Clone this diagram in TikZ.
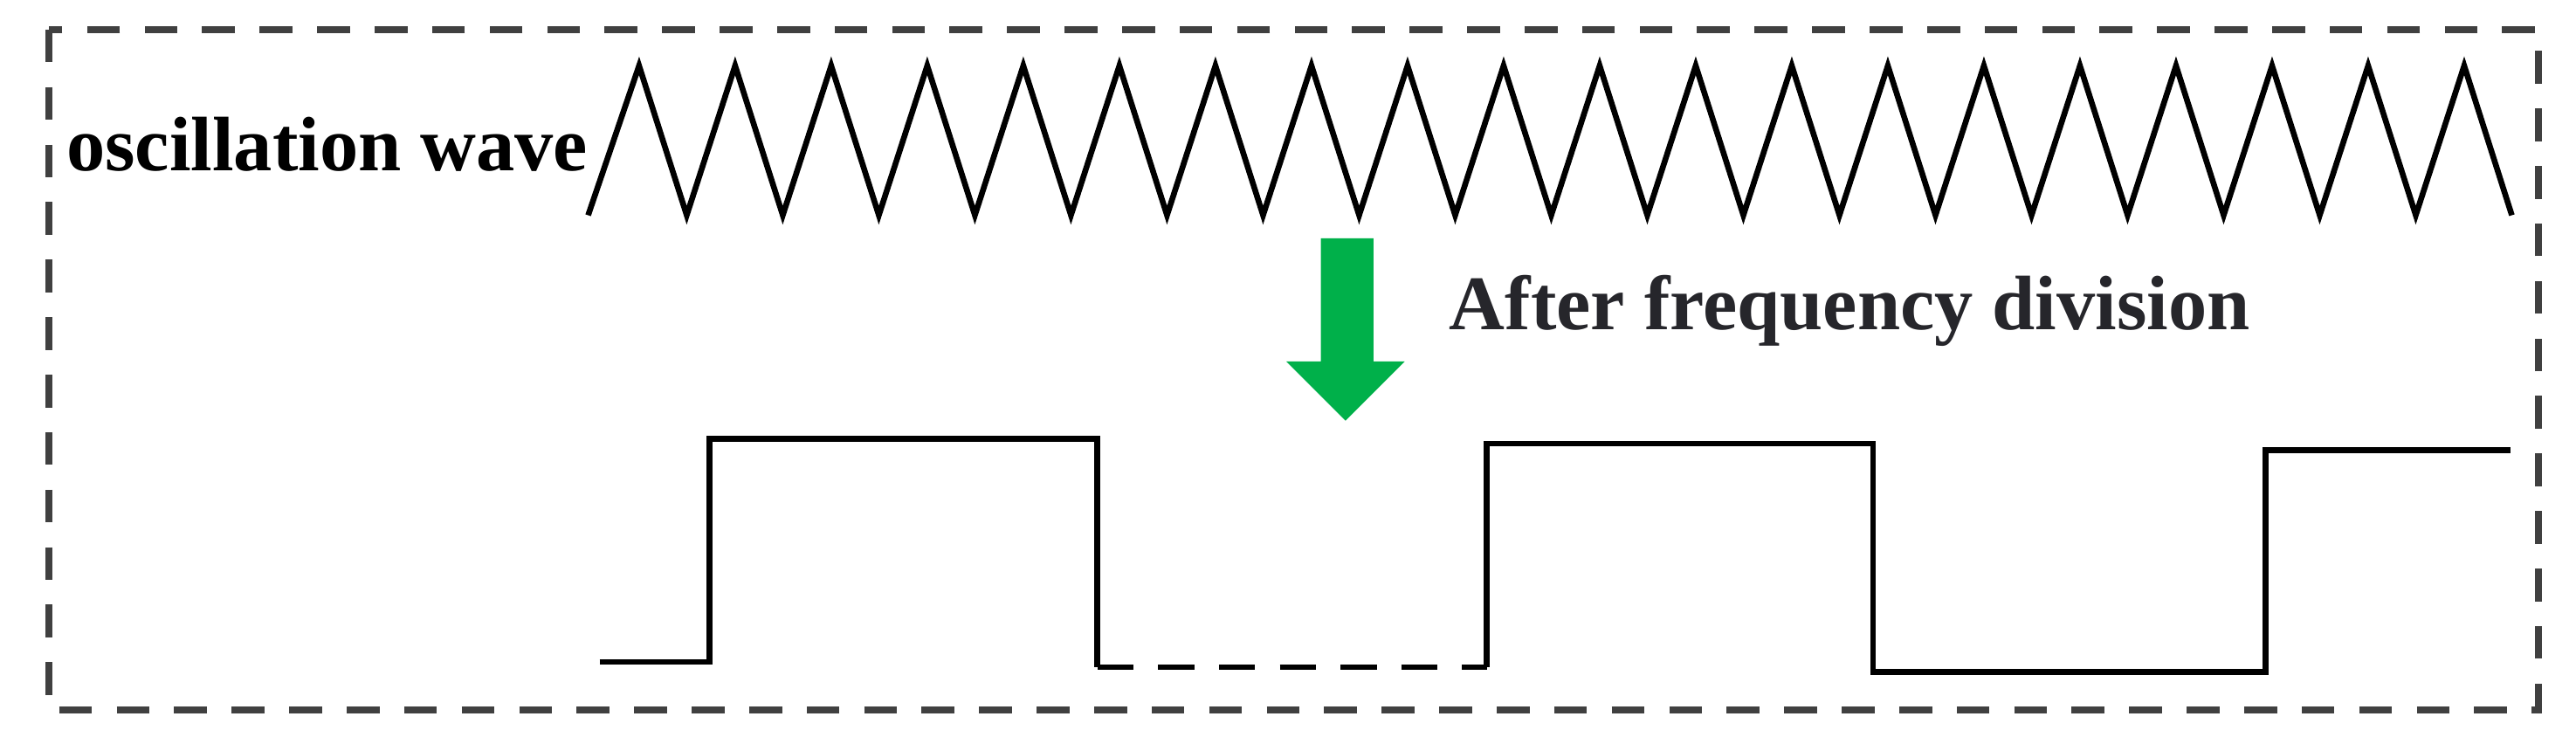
\documentclass[tikz,border=0pt]{standalone}
\usepackage{fontspec}
\setmainfont{Liberation Serif}
\definecolor{frame}{HTML}{404040}
\definecolor{arrowgreen}{HTML}{00B04A}
\definecolor{txtdark}{HTML}{26262B}
\tikzset{
  frameline/.style={draw=frame,line width=4.2pt,dash pattern=on 20pt off 15pt},
  wave/.style={draw=black,line width=3.5pt,line join=miter},
  lbl/.style={font=\bfseries\fontsize{47}{52}\selectfont,inner sep=0pt}
}
\begin{document}
\begin{tikzpicture}[x=1pt,y=-1pt]
\useasboundingbox (0,0) rectangle (1568,457);
\draw[frameline] (30,18) rectangle (1545,432);
\node[lbl,anchor=east] (osc) at (358,88) {oscillation wave};
% triangle wave
\coordinate (t0) at (358,131);
\draw[wave] (t0) \foreach \i in {0,...,19} { -- ({389+58.47*\i},40) -- ({418+58.47*\i},131) };
% arrow
\fill[arrowgreen] (804,145) -- (836,145) -- (836,220) -- (855,220) -- (819,256) -- (783,220) -- (804,220) -- cycle;
\node[lbl,text=txtdark,anchor=west] (after) at (882,189) {After frequency division};
% square wave
\coordinate (s0) at (365,403);
\coordinate (s1) at (668,406);
\coordinate (s2) at (905,406);
\draw[wave] (s0) -- (432,403) -- (432,267) -- (668,267) -- (s1);
\draw[wave,dash pattern=on 22pt off 15pt] (s1) -- (s2);
\draw[wave] (s2) -- (905,270) -- (1140,270) -- (1140,409) -- (1379,409) -- (1379,274) -- (1528,274);
\end{tikzpicture}
\end{document}
